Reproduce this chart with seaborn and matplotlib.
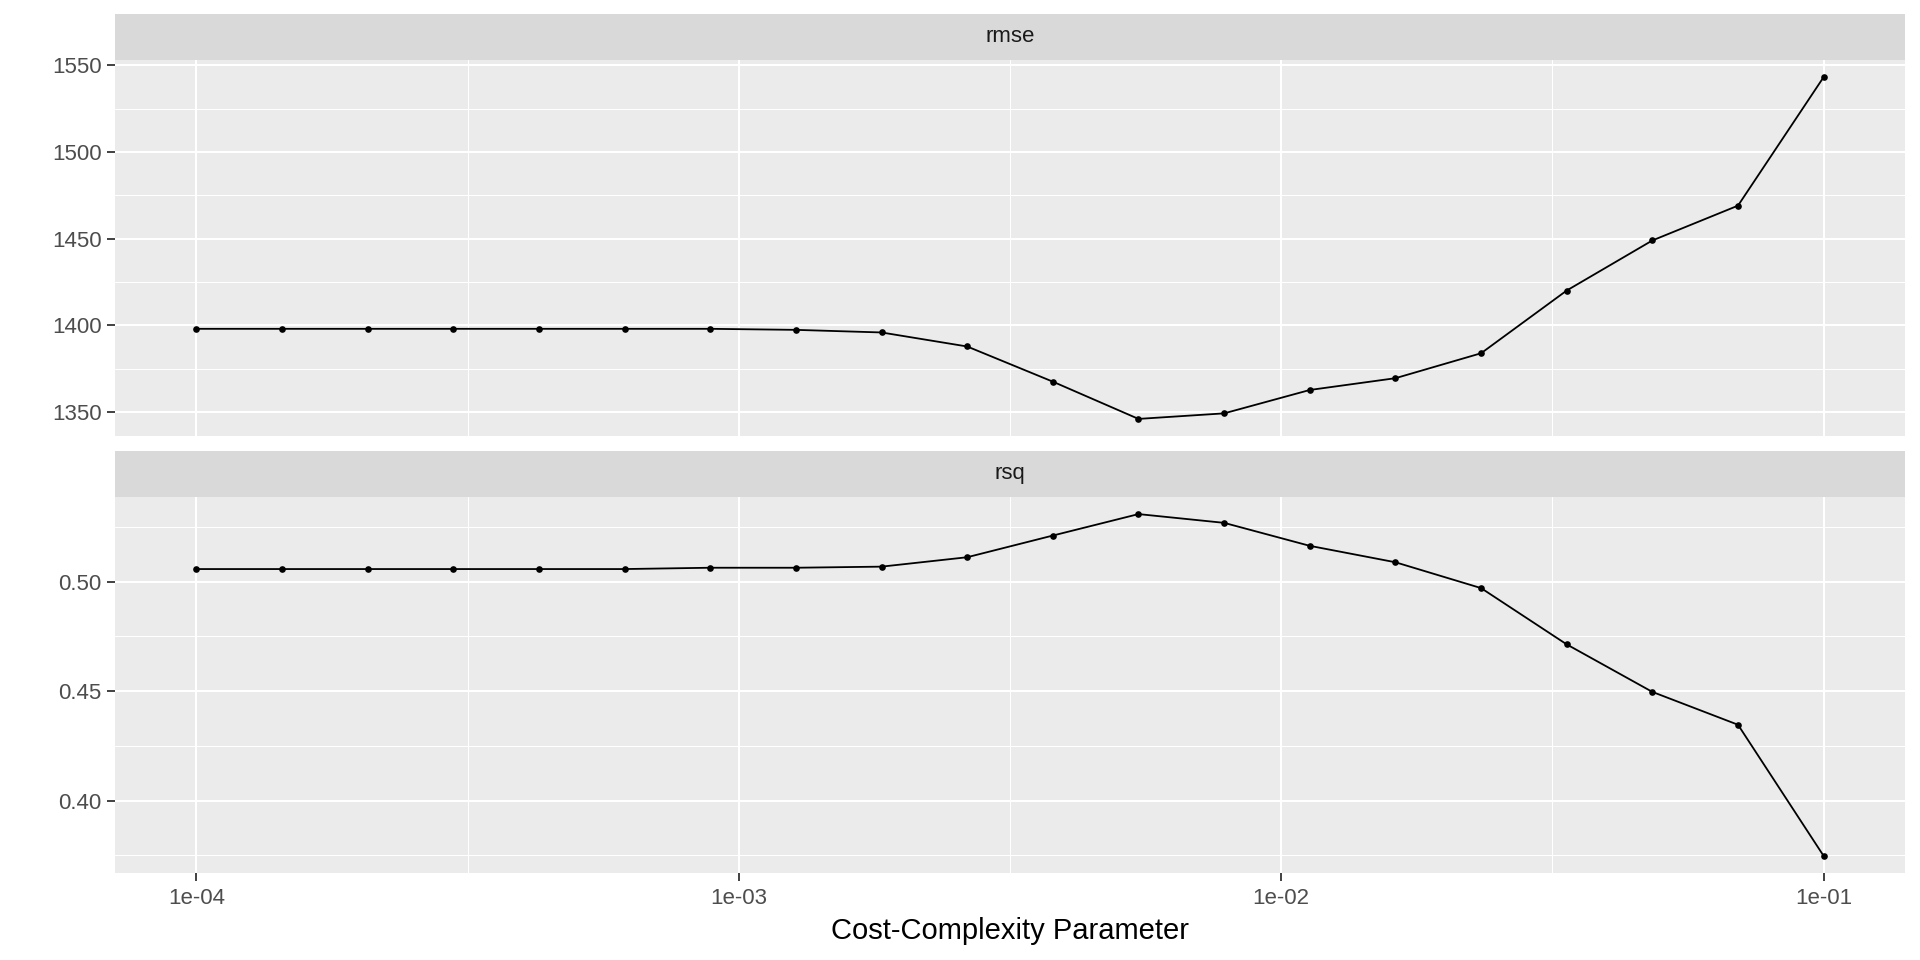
import numpy as np
import pandas as pd
import matplotlib
matplotlib.use("Agg")
import matplotlib.pyplot as plt
import seaborn as sns
from matplotlib.ticker import FixedLocator, NullFormatter

# ---- data ----
cost_complexity = [1.000e-04, 1.438e-04, 2.069e-04, 2.976e-04, 4.281e-04, 6.158e-04,
                   8.859e-04, 1.274e-03, 1.833e-03, 2.637e-03, 3.793e-03, 5.456e-03,
                   7.848e-03, 1.129e-02, 1.624e-02, 2.336e-02, 3.360e-02, 4.833e-02,
                   6.952e-02, 1.000e-01]
rmse = [1398.0, 1398.0, 1398.0, 1398.0, 1398.0, 1398.0, 1398.0, 1397.4, 1395.9,
        1387.8, 1367.5, 1346.0, 1349.2, 1362.7, 1369.5, 1383.9, 1420.1, 1449.0,
        1469.1, 1543.3]
rsq = [0.5058, 0.5058, 0.5058, 0.5058, 0.5058, 0.5058, 0.5064, 0.5064, 0.5069,
       0.5112, 0.5211, 0.5309, 0.5269, 0.5164, 0.5089, 0.4971, 0.4714, 0.4497,
       0.4347, 0.3748]
metrics = ["rmse", "rsq"]
x_tick_values = [1e-4, 1e-3, 1e-2, 1e-1]
x_tick_labels = ["1e-04", "1e-03", "1e-02", "1e-01"]
rmse_ticks = [1350, 1400, 1450, 1500, 1550]
rmse_tick_labels = ["1350", "1400", "1450", "1500", "1550"]
rsq_ticks = [0.40, 0.45, 0.50]
rsq_tick_labels = ["0.40", "0.45", "0.50"]
x_label = "Cost-Complexity Parameter"

df = pd.DataFrame({
    "cost_complexity": cost_complexity * 2,
    "mean": rmse + rsq,
    ".metric": ["rmse"] * len(rmse) + ["rsq"] * len(rsq),
})

sns.set_theme(style="white")
plt.rcParams["font.family"] = ["Liberation Sans", "DejaVu Sans"]

fig = plt.figure(figsize=(19.2, 9.6), dpi=100)
fig.patch.set_facecolor("white")

left = 115 / 1920
width = (1905 - 115) / 1920
H = 960

def frac(top, bottom):
    return 1 - bottom / H, (bottom - top) / H

panel_specs = [
    (metrics[0], (14, 60), (60, 436), rmse_ticks, rmse_tick_labels, False),
    (metrics[1], (451, 497), (497, 873), rsq_ticks, rsq_tick_labels, True),
]

xmin_log = np.log10(min(cost_complexity))
xmax_log = np.log10(max(cost_complexity))
xr = xmax_log - xmin_log
xlim = (10 ** (xmin_log - 0.05 * xr), 10 ** (xmax_log + 0.05 * xr))
minor_x = [10 ** (v + 0.5) for v in np.log10(x_tick_values)[:-1]] + [10 ** (np.log10(x_tick_values[0]) - 0.5)]

for metric, strip_px, panel_px, yt, ytl, show_x in panel_specs:
    sb, sh = frac(*strip_px)
    sax = fig.add_axes([left, sb, width, sh])
    sax.set_facecolor("#D9D9D9")
    sax.set_xticks([]); sax.set_yticks([])
    for s in sax.spines.values():
        s.set_visible(False)
    sax.text(0.5, 0.5, metric, ha="center", va="center", fontsize=16,
             color="#1A1A1A", transform=sax.transAxes)

    pb, ph = frac(*panel_px)
    ax = fig.add_axes([left, pb, width, ph])
    ax.set_facecolor("#EBEBEB")
    sub = df[df[".metric"] == metric]
    sns.lineplot(data=sub, x="cost_complexity", y="mean", ax=ax, color="black",
                 linewidth=1.3, marker="o", markersize=4.8, markeredgewidth=0,
                 markerfacecolor="black", legend=False)
    ax.set_xscale("log")
    ax.set_xlim(*xlim)
    vals = sub["mean"].to_numpy()
    yr = vals.max() - vals.min()
    ax.set_ylim(vals.min() - 0.05 * yr, vals.max() + 0.05 * yr)

    ax.xaxis.set_major_locator(FixedLocator(x_tick_values))
    ax.xaxis.set_minor_locator(FixedLocator(minor_x))
    ax.xaxis.set_minor_formatter(NullFormatter())
    ax.set_yticks(yt)
    ax.set_yticklabels(ytl)
    ymid = [(a + b) / 2 for a, b in zip(yt[:-1], yt[1:])]
    step = yt[1] - yt[0]
    ymid = [yt[0] - step / 2] + ymid + [yt[-1] + step / 2]
    ax.yaxis.set_minor_locator(FixedLocator(ymid))

    ax.grid(True, which="major", color="white", linewidth=1.5)
    ax.grid(True, which="minor", color="white", linewidth=0.75)
    ax.set_axisbelow(True)
    for s in ax.spines.values():
        s.set_visible(False)
    ax.tick_params(axis="y", which="major", length=5.5, width=1.3, color="#333333",
                   labelsize=16, labelcolor="#4D4D4D", pad=4, left=True)
    ax.tick_params(which="minor", length=0)
    if show_x:
        ax.set_xticklabels(x_tick_labels)
        ax.tick_params(axis="x", which="major", length=5.5, width=1.3, color="#333333",
                       labelsize=16, labelcolor="#4D4D4D", pad=5, bottom=True)
        ax.set_xlabel(x_label, fontsize=21, color="black", labelpad=6)
    else:
        ax.tick_params(axis="x", which="major", length=0, labelbottom=False)
        ax.set_xlabel("")
    ax.set_ylabel("")

fig.savefig("out.png", dpi=100, facecolor="white")
